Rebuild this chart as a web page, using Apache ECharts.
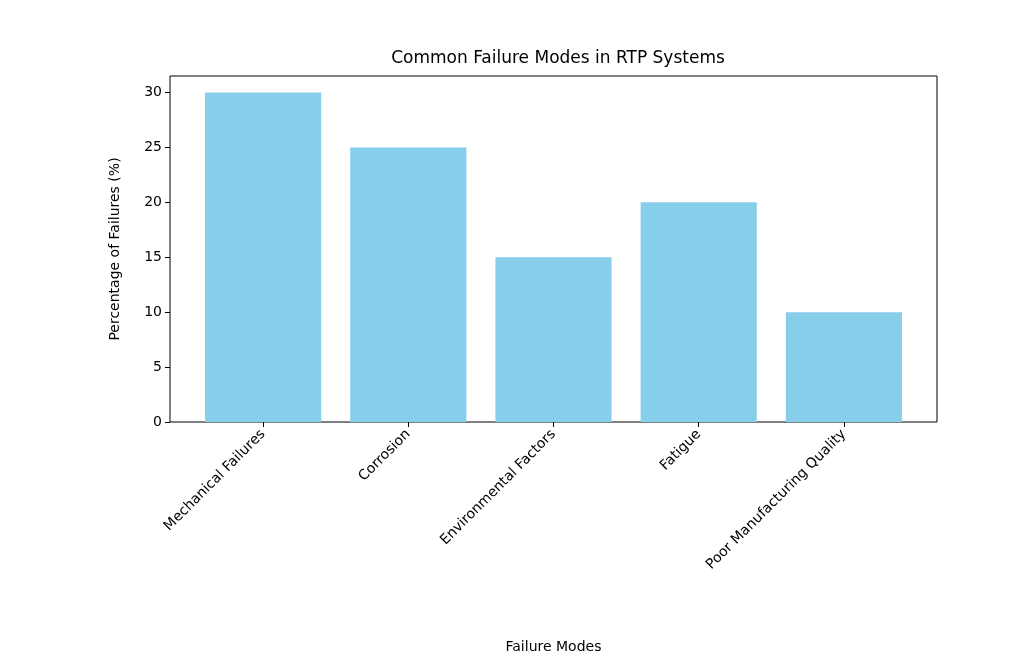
<!DOCTYPE html>
<html>
<head>
<meta charset="utf-8">
<script src="https://cdn.jsdelivr.net/npm/echarts@6/dist/echarts.min.js"></script>
<style>html,body{margin:0;padding:0;background:#fff}#main{width:1032px;height:665px}</style>
</head>
<body>
<div id="main"></div>
<script>
var modes = ['Mechanical Failures', 'Corrosion', 'Environmental Factors', 'Fatigue', 'Poor Manufacturing Quality'];
var percents = [30, 25, 15, 20, 10];
var yTicks = [0, 5, 10, 15, 20, 25, 30];

var chart = echarts.init(document.getElementById('main'));
var font = 'DejaVu Sans';
chart.setOption({
  textStyle: {fontFamily: font},
  title: {
    text: 'Common Failure Modes in RTP Systems', left: 553, top: 45, textAlign: 'center',
    textStyle: {fontSize: 17, fontWeight: 'normal', color: '#000', fontFamily: font}
  },
  graphic: [{
    type: 'rect', shape: {x: 170, y: 76, width: 767, height: 346},
    style: {fill: 'none', stroke: '#000', lineWidth: 1}, silent: true
  }],
  grid: {left: 190.5, width: 726, top: 76, height: 346},
  xAxis: {
    type: 'category', data: modes, boundaryGap: true,
    axisLine: {show: false},
    axisTick: {show: true, alignWithLabel: true, length: 5, lineStyle: {color: '#000'}},
    axisLabel: {rotate: 45, fontSize: 14, color: '#000', margin: 10, interval: 0},
    name: 'Failure Modes', nameLocation: 'middle', nameGap: 218,
    nameTextStyle: {fontSize: 14, color: '#000'}
  },
  yAxis: {
    type: 'value', min: 0, max: 31.5, offset: 20.5,
    axisLine: {show: false},
    axisTick: {show: true, length: 5, lineStyle: {color: '#000'}, customValues: yTicks},
    axisLabel: {fontSize: 14, color: '#000', margin: 8, customValues: yTicks},
    splitLine: {show: false},
    name: 'Percentage of Failures (%)', nameLocation: 'middle', nameGap: 48,
    nameTextStyle: {fontSize: 14, color: '#000'}
  },
  series: [{
    type: 'bar', data: percents, barWidth: '80%',
    itemStyle: {color: '#87CEEB'}
  }]
});
</script>
</body>
</html>
